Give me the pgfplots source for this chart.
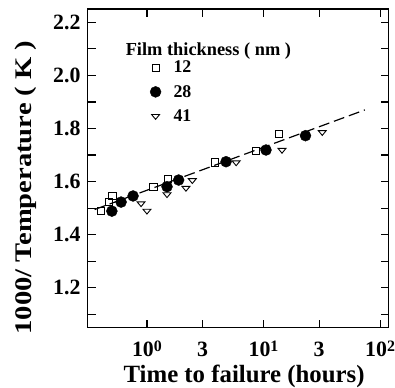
\documentclass[border=0pt]{standalone}
\usepackage{fontspec}
\setmainfont{Liberation Serif}
\usepackage{graphicx}
\usepackage{pgfplots}
\pgfplotsset{compat=1.18}
\newcommand{\supdig}[1]{\raisebox{5bp}{\fontsize{16}{16}\selectfont #1}}
\begin{document}
\begin{tikzpicture}
\begin{axis}[
  scale only axis,
  width=302bp, height=320bp,
  xmode=log,
  xmin=0.31, xmax=118,
  ymin=1.05, ymax=2.25,
  axis line style={line width=1.3pt},
  every tick/.style={line width=1.2pt, black},
  major tick length=8bp,
  minor tick length=8bp,
  xtick={1,3,10,30,100},
  xticklabels={10\supdig{0},3,10\supdig{1},3,10\supdig{2}},
  minor xtick={},
  ytick={1.2,1.4,...,2.21},
  minor ytick={1.1,1.3,...,2.11},
  /pgf/number format/assume math mode=true,
  tick label style={font=\bfseries\fontsize{22}{22}\selectfont, inner sep=0pt},
  yticklabel style={anchor=east, xshift=-7bp, /pgf/number format/fixed, /pgf/number format/fixed zerofill, /pgf/number format/precision=1},
  xticklabel style={anchor=base, yshift=-29bp},
  xlabel={Time to failure (hours)},
  ylabel={\scalebox{1.2}[1]{1000/ Temperature ( K )}},
  xlabel style={font=\bfseries\fontsize{25}{25}\selectfont, inner sep=0pt, at={(rel axis cs:0.52,-0.172)}, anchor=base},
  ylabel style={font=\bfseries\fontsize{24}{24}\selectfont, inner sep=0pt, at={(rel axis cs:-0.205,0.44)}, anchor=center},
  legend style={at={(0.195,0.85)}, anchor=north west, draw=none, fill=none,
    font=\bfseries\fontsize{18}{18}\selectfont, row sep=7bp,
    legend cell align=left},
  legend image code/.code={\path (0cm,0cm) (0.75cm,0cm); \draw[#1] plot coordinates {(0.2cm,0cm)};},
]
\addplot[only marks, mark=square, mark size=3.6bp, black, line width=0.9pt]
 coordinates {(0.406,1.49) (0.469,1.525) (0.505,1.545) (1.135,1.581) (1.506,1.609) (3.84,1.672) (8.54,1.716) (13.5,1.780)};
\addlegendentry{12}
\addplot[only marks, mark=*, mark size=5.5bp, black]
 coordinates {(0.50,1.489) (0.60,1.523) (0.76,1.546) (1.486,1.581) (1.87,1.606) (4.77,1.675) (10.5,1.719) (22.9,1.773)};
\addlegendentry{28}
\addplot[only marks, mark=triangle, mark size=4.6bp, black, line width=0.9pt, mark options={rotate=180, yscale=0.7}]
 coordinates {(0.89,1.518) (1.0,1.49) (1.486,1.552) (2.16,1.576) (2.45,1.605) (5.82,1.672) (14.4,1.719) (31.9,1.786)};
\addlegendentry{41}
\addplot[black, line width=1.2pt, dash pattern=on 11bp off 5bp, forget plot]
 coordinates {(0.356,1.495) (74,1.870)};
\node[anchor=west, font=\bfseries\fontsize{18.5}{18.5}\selectfont, inner sep=0pt] at (rel axis cs:0.126,0.869) {Film thickness ( nm )};
\end{axis}
\path (current axis.south west) ++(-88bp,-60bp);
\path (current axis.north east) ++(5bp,9bp);
\end{tikzpicture}
\end{document}
